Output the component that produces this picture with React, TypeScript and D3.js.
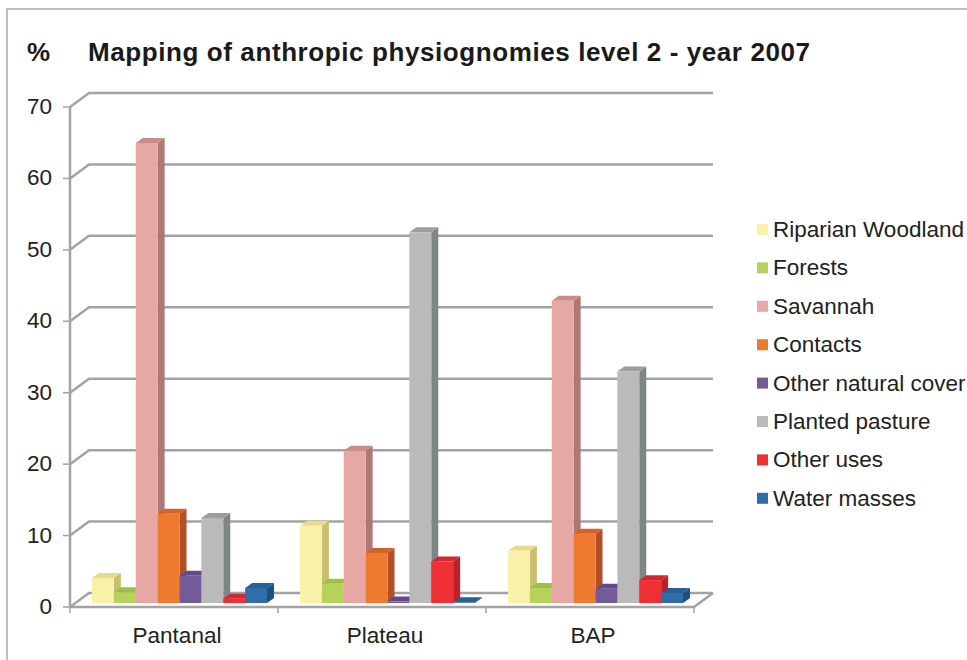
import React from "react";
import * as d3 from "d3";

const categories = ["Pantanal", "Plateau", "BAP"];
const seriesNames = [
  "Riparian Woodland",
  "Forests",
  "Savannah",
  "Contacts",
  "Other natural cover",
  "Planted pasture",
  "Other uses",
  "Water masses",
];
const riparian = [3.5, 10.8, 7.3];
const forests = [1.5, 2.7, 2.1];
const savannah = [64.4, 21.3, 42.3];
const contacts = [12.5, 7.0, 9.7];
const otherNatural = [3.8, 0.2, 2.0];
const plantedPasture = [11.9, 51.9, 32.4];
const otherUses = [0.6, 5.8, 3.2];
const waterMasses = [2.1, 0.1, 1.4];
const yTicks = [0, 10, 20, 30, 40, 50, 60, 70];

const seriesValues = [riparian, forests, savannah, contacts, otherNatural, plantedPasture, otherUses, waterMasses];
const frontColors = ["#F9F1A8", "#B5D35A", "#E6A8A3", "#EF7A2E", "#735B9A", "#BABABA", "#EE2F33", "#2E6EAA"];
const sideColors = ["#CABF6E", "#8FAC3F", "#B07674", "#B24F27", "#56427A", "#7F8585", "#B8222A", "#234F7E"];
const topColors = ["#E6DB8A", "#9CBF48", "#C98C88", "#D2622A", "#61498A", "#9A9E9E", "#D0282E", "#2A5F92"];

export default function App() {
  const W = 967, H = 660;
  const x0 = 70, x1 = 694;
  const y = d3.scaleLinear().domain([0, 70]).range([607, 107]);
  const wallDx = 19, wallDy = -14;
  const barBaseShift = -4;
  const barDx = 7, barDy = -5;
  const xBand = d3.scaleBand().domain(categories).range([x0, x1]).paddingInner(0).paddingOuter(0);
  const inner = d3.scaleBand().domain(seriesNames).range([22, 22 + 175]).padding(0);
  const grid = "#A3A3A3";

  const gridLines = yTicks.map((v) => {
    const yf = y(v), yb = y(v) + wallDy;
    return (
      <g key={v}>
        <polyline points={`${x0},${yf} ${x0 + wallDx},${yb} ${x1 + wallDx},${yb}`} fill="none" stroke={grid} strokeWidth={2.5} />
        <line x1={x0 - 7} x2={x0} y1={yf} y2={yf} stroke={grid} strokeWidth={1.5} />
        <text x={52} y={yf + 1} textAnchor="end" dominantBaseline="middle" fontSize={22.5} fill="#222">{v}</text>
      </g>
    );
  });

  const bars: React.ReactNode[] = [];
  categories.forEach((c, i) => {
    seriesNames.forEach((s, j) => {
      const v = seriesValues[j][i];
      const xl = (xBand(c) as number) + (inner(s) as number);
      const w = inner.bandwidth();
      const yb = y(0) + barBaseShift;
      const yt = y(v) + barBaseShift;
      bars.push(
        <g key={`${i}-${j}`}>
          <polygon points={`${xl + w},${yb} ${xl + w + barDx},${yb + barDy} ${xl + w + barDx},${yt + barDy} ${xl + w},${yt}`} fill={sideColors[j]} />
          <polygon points={`${xl},${yt} ${xl + barDx},${yt + barDy} ${xl + w + barDx},${yt + barDy} ${xl + w},${yt}`} fill={topColors[j]} />
          <rect x={xl} y={yt} width={w} height={Math.max(0, yb - yt)} fill={frontColors[j]} />
        </g>
      );
    });
  });

  const catTicks = [x0, ...categories.map((c) => (xBand(c) as number) + xBand.bandwidth())];

  return (
    <svg width={W} height={H} style={{ position: "absolute", left: 0, top: 0, background: "#fff" }} fontFamily="'Liberation Sans', Arial, sans-serif">
      <rect x={0} y={0} width={W} height={H} fill="#fff" />
      <polyline points={`7,${H} 7,9 ${W},9`} fill="none" stroke="#A8A8A8" strokeWidth={1.5} />
      <text x={27} y={61} fontSize={26} fontWeight="bold" fill="#1a1a1a">%</text>
      <text x={88} y={61} fontSize={26} fontWeight="bold" fill="#1a1a1a" textLength={722} lengthAdjust="spacing">Mapping of anthropic physiognomies level 2 - year 2007</text>
      {gridLines}
      <polyline points={`${x0},${y(0)} ${x1},${y(0)} ${x1 + wallDx},${y(0) + wallDy}`} fill="none" stroke={grid} strokeWidth={2.5} />
      <line x1={x0} x2={x0} y1={y(70)} y2={y(0)} stroke={grid} strokeWidth={2.5} />
      {catTicks.map((t, k) => (
        <line key={k} x1={t} x2={t} y1={y(0)} y2={y(0) + 6} stroke={grid} strokeWidth={1.5} />
      ))}
      {categories.map((c) => (
        <text key={c} x={(xBand(c) as number) + xBand.bandwidth() / 2 + 3} y={643} textAnchor="middle" fontSize={22.5} fill="#222">{c}</text>
      ))}
      {bars}
      {seriesNames.map((s, j) => (
        <g key={s} transform={`translate(757, ${230 + j * 38.4})`}>
          <rect x={0} y={-6} width={11} height={11} fill={frontColors[j]} />
          <text x={16} y={1} dominantBaseline="middle" fontSize={22.5} fill="#222">{s}</text>
        </g>
      ))}
    </svg>
  );
}
